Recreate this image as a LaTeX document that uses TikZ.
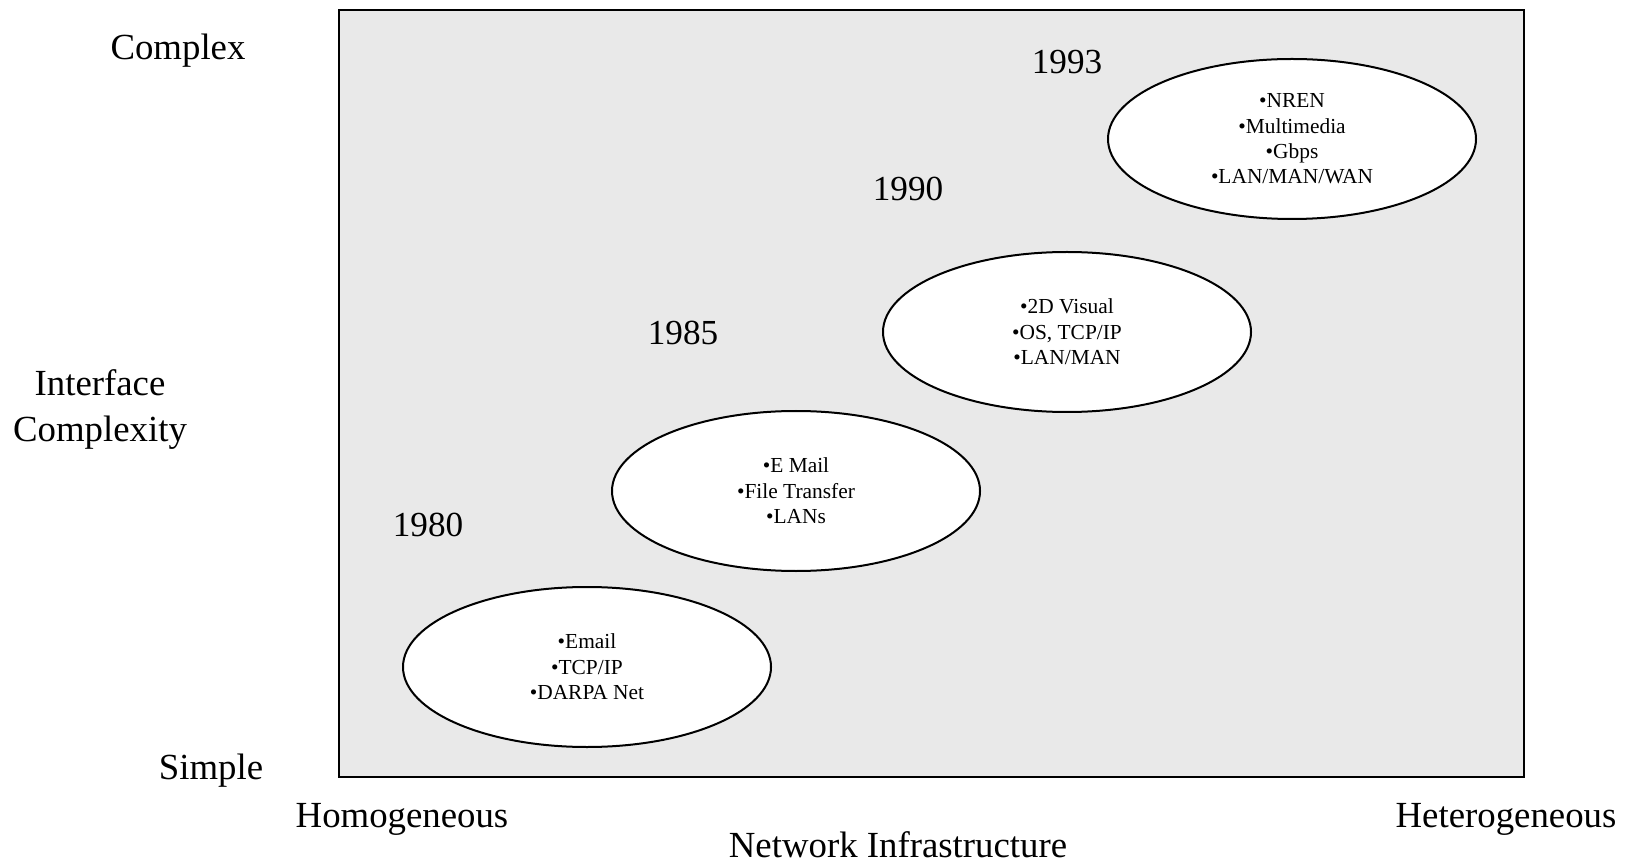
\documentclass[tikz,border=0pt]{standalone}
\usepackage{fontspec}
\setmainfont{Liberation Serif}
\usetikzlibrary{shapes.geometric}
\definecolor{panelgray}{RGB}{233,233,233}

\begin{document}
\begin{tikzpicture}[
    x=0.5pt, y=-0.5pt,
    axislabel/.style={font=\fontsize{18.4}{23}\selectfont, align=center, inner sep=0pt},
    yearlabel/.style={font=\fontsize{17.6}{21}\selectfont, inner sep=0pt},
    era/.style={draw, line width=1pt, fill=white, ellipse, inner sep=0pt,
                minimum width=184pt, minimum height=80pt, align=center,
                font=\fontsize{10.7}{12.7}\selectfont}
]
\useasboundingbox (0,0) rectangle (1636,865);
% panel
\draw[line width=1pt, fill=panelgray] (339,10) rectangle (1524,777);
% eras
\node[era] (e1980) at (587,667) {•Email\\•TCP/IP\\•DARPA Net};
\node[era] (e1985) at (796,491) {•E Mail\\•File Transfer\\•LANs};
\node[era] (e1990) at (1067,332) {•2D Visual\\•OS, TCP/IP\\•LAN/MAN};
\node[era] (e1993) at (1292,139) {•NREN\\•Multimedia\\•Gbps\\•LAN/MAN/WAN};
% years
\node[yearlabel] (y1980) at (428,525) {1980};
\node[yearlabel] (y1985) at (683,333) {1985};
\node[yearlabel] (y1990) at (908,189) {1990};
\node[yearlabel] (y1993) at (1067,62) {1993};
% axis labels
\node[axislabel] (complex) at (178,51) {Complex};
\node[axislabel] (ycap) at (100,410) {Interface\\Complexity};
\node[axislabel] (simple) at (211,771) {Simple};
\node[axislabel] (homog) at (402,819) {Homogeneous};
\node[axislabel] (heterog) at (1506,819) {Heterogeneous};
\node[axislabel, anchor=base, text depth=0pt] (xcap) at (898,857) {Network Infrastructure};
\end{tikzpicture}
\end{document}
